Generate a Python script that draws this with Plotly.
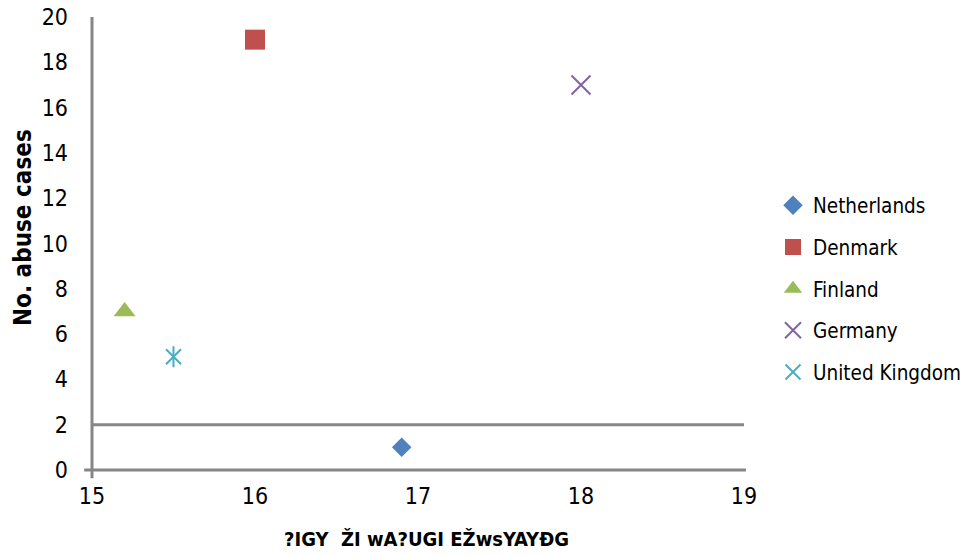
import plotly.graph_objects as go

countries = ["Netherlands", "Denmark", "Finland", "Germany", "United Kingdom"]
x_vals = [16.9, 16.0, 15.2, 18.0, 15.5]
y_vals = [1, 19, 7, 17, 5]
colors = ["#4F81BD", "#C0504D", "#9BBB59", "#8064A2", "#4BACC6"]
symbols = ["diamond", "square", "triangle-up", "x-thin-open", "x-thin-open"]
sizes = [15, 20, 19, 19, 15]

x_title = "?IGY  ŽI wA?UGI EŽwsYAYĐG"
y_title = "No. abuse cases"
x_ticks = [15, 16, 17, 18, 19]
y_ticks = [0, 2, 4, 6, 8, 10, 12, 14, 16, 18, 20]

fig = go.Figure()
for i, name in enumerate(countries):
    sym = symbols[i]
    fig.add_trace(go.Scatter(
        x=[x_vals[i]], y=[y_vals[i]], mode="markers", name=name,
        legendgroup=name,
        marker=dict(symbol=sym, size=sizes[i], color=colors[i],
                    line=dict(width=2 if "open" in sym else 0, color=colors[i])),
    ))
# vertical stroke of the UK star marker
uk = countries.index("United Kingdom")
fig.add_trace(go.Scatter(
    x=[x_vals[uk]], y=[y_vals[uk]], mode="markers", showlegend=False,
    legendgroup=countries[uk], hoverinfo="skip",
    marker=dict(symbol="line-ns-open", size=15, color=colors[uk],
                line=dict(width=2, color=colors[uk])),
))

narrow = "DejaVu Sans Condensed, Liberation Sans Narrow, sans-serif"
axis_font = dict(family=narrow, size=23, color="#000000")

fig.update_layout(
    width=967, height=556,
    margin=dict(l=92, r=223, t=17, b=86, autoexpand=False),
    paper_bgcolor="white", plot_bgcolor="white",
    showlegend=True,
    legend=dict(xref="container", yref="container", x=773 / 967, y=1 - 289 / 556,
                xanchor="left", yanchor="middle",
                font=dict(family="DejaVu Sans Condensed, sans-serif", size=20.5, color="#000000"),
                tracegroupgap=12, itemwidth=30, bgcolor="rgba(0,0,0,0)"),
    xaxis=dict(range=[15, 19], tickvals=x_ticks, showgrid=False, zeroline=False,
               showline=False, ticks="", tickfont=axis_font, ticklabelstandoff=10,
               automargin=False),
    yaxis=dict(range=[0, 20], tickvals=y_ticks, showgrid=False, zeroline=False,
               showline=False, ticks="", tickfont=axis_font, ticklabelstandoff=23,
               automargin=False),
)

# axis titles as annotations for exact placement
fig.add_annotation(text="<b>" + x_title + "</b>", xref="paper", yref="paper",
                   x=(426 - 92) / 652, y=-(539 - 470) / 453, showarrow=False,
                   xanchor="center", yanchor="middle",
                   font=dict(family=narrow, size=20, color="#000000"))
fig.add_annotation(text="<b>" + y_title + "</b>", xref="paper", yref="paper",
                   x=-(92 - 23) / 652, y=(470 - 228) / 453, showarrow=False,
                   textangle=-90, xanchor="center", yanchor="middle",
                   font=dict(family=narrow, size=24, color="#000000"))

line_style = dict(color="#868686", width=3)
# left axis line
fig.add_shape(type="line", xref="paper", yref="paper", x0=0, x1=0, y0=-0.018, y1=1, line=line_style)
# bottom axis line
fig.add_shape(type="line", xref="paper", yref="paper", x0=-0.012, x1=1.003, y0=0, y1=0, line=line_style)
# horizontal line at y=2
fig.add_shape(type="line", xref="paper", yref="y", x0=0, x1=1, y0=2, y1=2, line=line_style, layer="below")

fig.write_html("out.html", config={"displayModeBar": False},
               post_script="document.body.style.margin='0';document.body.style.overflow='hidden';")
